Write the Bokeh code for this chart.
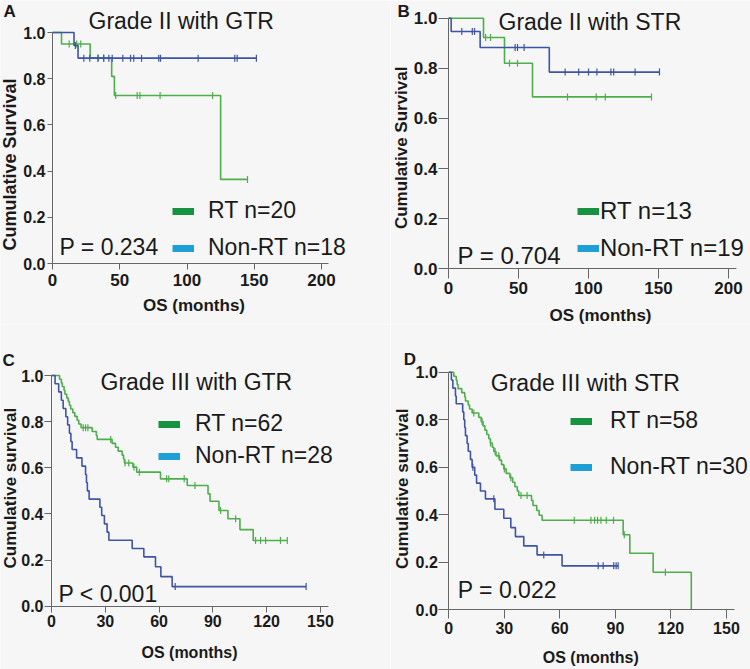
import numpy as np
from bokeh.plotting import figure
from bokeh.models import (Label, Legend, LegendItem, Range1d, FixedTicker,
                          PrintfTickFormatter, LinearAxis)
from bokeh.layouts import row, column
from bokeh.embed import file_html
from bokeh.resources import INLINE

FONT = "Liberation Sans"
GREEN = "#4fae4c"
BLUE = "#3f54a4"
LEG_GREEN = "#15933e"
LEG_BLUE = "#1ea0d6"
BG = "#f6f6f6"
AXIS = "#666666"

# ---------------- data (months, cumulative survival) ----------------
# Panel A: Grade II with GTR
a_rt_times = [6.7, 28.0, 44.0, 46.0, 125.0]
a_rt_surv = [0.95, 0.89, 0.81, 0.727, 0.364]
a_rt_end = 145.0
a_rt_cens = [12.4, 18.0, 21.0, 33.8, 38.0, 47.0, 63.0, 65.0, 80.0, 119.0, 145.0]
a_nrt_times = [16.0, 19.0]
a_nrt_surv = [0.944, 0.889]
a_nrt_end = 151.6
a_nrt_cens = [17.0, 23.3, 27.7, 33.9, 38.1, 41.9, 44.4, 52.3, 58.0, 60.4, 66.2,
              79.0, 80.3, 108.3, 135.5, 137.3, 151.6]

# Panel B: Grade II with STR
b_rt_times = [25.0, 40.0, 60.0]
b_rt_surv = [0.923, 0.82, 0.686]
b_rt_end = 145.0
b_rt_cens = [26.5, 30.0, 43.6, 49.3, 85.0, 105.5, 112.0, 145.0]
b_nrt_times = [1.9, 22.6, 72.0]
b_nrt_surv = [0.947, 0.883, 0.785]
b_nrt_end = 150.7
b_nrt_cens = [9.5, 17.0, 18.6, 47.6, 49.3, 54.0, 83.3, 93.0, 100.0, 106.0, 116.0,
              118.0, 133.3, 150.7]

# Panel C: Grade III with GTR
c_rt_times = [4.5, 5.5, 6.0, 7.0, 7.5, 8.5, 9.3, 10.0, 10.7, 11.9, 13.0, 14.3, 15.2,
              16.5, 22.7, 25.0, 25.5, 33.8, 35.7, 37.2, 39.4, 40.2, 40.7, 45.4, 47.5,
              60.8, 75.7, 87.3, 88.4, 93.4, 98.4, 105.1, 112.5]
c_rt_surv = [0.984, 0.968, 0.952, 0.935, 0.919, 0.903, 0.887, 0.871, 0.855, 0.839,
             0.823, 0.806, 0.790, 0.774, 0.757, 0.740, 0.723, 0.706, 0.689, 0.672,
             0.655, 0.638, 0.621, 0.603, 0.581, 0.552, 0.523, 0.487, 0.455, 0.415,
             0.379, 0.332, 0.285]
c_rt_end = 131.5
c_rt_cens = [17.7, 19.0, 20.3, 33.0, 41.0, 43.1, 46.0, 49.0, 64.2, 65.4, 74.0, 80.0,
             94.3, 102.7, 113.8, 116.6, 119.4, 127.7, 131.5]
c_nrt_times = [2.0, 4.0, 5.5, 6.5, 8.0, 9.0, 10.0, 10.8, 11.5, 14.0, 17.0, 19.0, 19.5,
               20.0, 21.0, 27.0, 28.0, 29.5, 31.0, 32.0, 45.0, 51.5, 58.0, 61.0, 67.3]
c_nrt_surv = [0.964, 0.929, 0.893, 0.857, 0.821, 0.786, 0.750, 0.714, 0.679, 0.643,
              0.607, 0.571, 0.536, 0.500, 0.464, 0.429, 0.393, 0.357, 0.321, 0.286,
              0.250, 0.214, 0.171, 0.128, 0.085]
c_nrt_end = 142.0
c_nrt_cens = [69.0, 142.0]

# Panel D: Grade III with STR
d_rt_times = [2.7, 4.0, 4.5, 5.0, 7.0, 8.6, 9.0, 10.5, 11.2, 12.6, 16.2, 17.5, 18.5,
              19.5, 20.5, 21.6, 22.5, 23.5, 24.3, 25.5, 27.4, 28.5, 29.7, 31.0, 33.0,
              34.5, 35.7, 37.0, 37.8, 44.7, 45.5, 47.5, 48.8, 50.4, 94.2, 97.8, 110.4,
              131.0]
d_rt_surv = [0.983, 0.966, 0.948, 0.931, 0.914, 0.897, 0.879, 0.862, 0.845, 0.828,
             0.810, 0.792, 0.774, 0.756, 0.738, 0.720, 0.702, 0.684, 0.666, 0.648,
             0.630, 0.611, 0.593, 0.574, 0.556, 0.537, 0.518, 0.500, 0.481, 0.460,
             0.439, 0.418, 0.398, 0.377, 0.316, 0.238, 0.158, 0.0]
d_rt_end = 131.0
d_rt_cens = [13.5, 18.0, 22.5, 25.0, 27.0, 30.0, 33.5, 39.0, 42.3, 67.8, 76.8, 78.8,
             80.4, 82.2, 85.1, 89.0, 94.8, 117.0]
d_nrt_times = [1.4, 2.2, 3.6, 4.0, 7.5, 8.1, 8.6, 9.0, 9.9, 10.5, 11.7, 12.6, 14.0,
               15.0, 17.1, 19.8, 24.9, 29.7, 33.5, 36.0, 40.5, 47.7, 61.2]
d_nrt_surv = [0.967, 0.933, 0.900, 0.867, 0.833, 0.800, 0.767, 0.733, 0.700, 0.667,
              0.633, 0.600, 0.567, 0.533, 0.500, 0.467, 0.423, 0.385, 0.346, 0.308,
              0.269, 0.231, 0.185]
d_nrt_end = 91.5
d_nrt_cens = [13.0, 24.3, 51.3, 80.7, 83.4, 89.1, 90.4, 91.5]

xticks_200 = [0, 50, 100, 150, 200]
xticks_150 = [0, 30, 60, 90, 120, 150]
yticks = [0.0, 0.2, 0.4, 0.6, 0.8, 1.0]


def km_path(times, surv, end):
    xs = [0.0] + list(times) + [end]
    ys = [1.0] + list(surv) + [surv[-1]]
    return xs, ys


def surv_at(times, surv, t):
    idx = np.searchsorted(np.asarray(times), np.asarray(t), side="right") - 1
    s = np.concatenate([[1.0], np.asarray(surv)])
    return s[idx + 1]


def add_text(p, text, dx, dy, size, bold=False, align="left",
             baseline="alphabetic", angle=0.0):
    # small correction for where the renderer places the text box
    if angle == 0.0:
        dy = dy + 0.27 * size
    else:
        dx = dx - 0.17 * size
    p.add_layout(Label(x=0, y=0, x_offset=dx, y_offset=dy, text=text,
                       text_font=FONT, text_font_size=f"{size}px",
                       text_font_style="bold" if bold else "normal",
                       text_color="#1a1a1a", text_align=align,
                       text_baseline=baseline, angle=angle))


def make_panel(c):
    W, H = c["w"], c["h"]
    ox, oy = c["origin"]          # pixel position of data (0, 0) inside the figure
    sx, sy = c["scale"]           # pixels per month, pixels per unit survival
    p = figure(width=W, height=H, output_backend="svg", toolbar_location=None,
               title=None, x_axis_location=None, y_axis_location=None,
               x_range=Range1d(-ox / sx, (W - ox) / sx),
               y_range=Range1d(-(H - oy) / sy, oy / sy),
               min_border=0, min_border_left=0, min_border_right=0,
               min_border_top=0, min_border_bottom=0)
    p.background_fill_color = BG
    p.border_fill_color = BG
    p.outline_line_color = None
    p.grid.visible = False

    xaxis = LinearAxis(fixed_location=0, bounds=(0, c["xend"]),
                       ticker=FixedTicker(ticks=c["xticks"]))
    yaxis = LinearAxis(fixed_location=0, bounds=(0, 1.0),
                       ticker=FixedTicker(ticks=yticks),
                       formatter=PrintfTickFormatter(format="%.1f"))
    for ax, fs in ((xaxis, c["xfs"]), (yaxis, c["yfs"])):
        ax.major_label_text_font = FONT
        ax.major_label_text_font_size = f"{fs}px"
        ax.major_label_text_font_style = "bold"
        ax.major_label_text_color = "#1a1a1a"
        ax.axis_line_color = AXIS
        ax.major_tick_line_color = AXIS
        ax.major_tick_in = 0
        ax.minor_tick_in = 0
        ax.minor_tick_out = 0
    xaxis.major_tick_out = c["xtick"]
    yaxis.major_tick_out = c["ytick"]
    xaxis.major_label_standoff = c["xstand"]
    yaxis.major_label_standoff = c["ystand"]
    p.add_layout(xaxis, "below")
    p.add_layout(yaxis, "left")

    # curves: RT (green) first, then Non-RT (blue)
    for (t, s, e, cens), col in ((c["rt"], GREEN), (c["nrt"], BLUE)):
        xs, ys = km_path(t, s, e)
        p.step(xs, ys, mode="after", line_color=col, line_width=1.6)
        p.scatter(cens, surv_at(t, s, cens), marker="dash", angle=np.pi / 2,
                  size=7, line_color=col, line_width=1.2)

    # legend (legend-only renderers with no visible data)
    nan = np.array([np.nan])
    r1 = p.line(x=nan, y=nan, line_color=LEG_GREEN, line_width=7)
    r2 = p.line(x=nan, y=nan, line_color=LEG_BLUE, line_width=7)
    ldx, ldy = c["legpos"]
    lg = Legend(items=[LegendItem(label=c["leg"][0], renderers=[r1]),
                       LegendItem(label=c["leg"][1], renderers=[r2])],
                location=(ox + ldx, (H - oy) + ldy), orientation="vertical",
                glyph_width=22, glyph_height=28, label_height=28,
                label_standoff=c["legstand"], spacing=c["legspace"],
                padding=0, margin=0, background_fill_alpha=0,
                border_line_alpha=0, label_text_font=FONT,
                label_text_font_size=f"{c['legsize']}px",
                label_text_color="#1a1a1a")
    p.add_layout(lg)

    add_text(p, c["letter"][0], c["letter"][1], c["letter"][2], 17, bold=True)
    add_text(p, c["title"][0], c["title"][1], c["title"][2], 23)
    add_text(p, c["pval"][0], c["pval"][1], c["pval"][2], c["pval"][3])
    add_text(p, c["ylab"][0], c["ylab"][1], c["ylab"][2], c["ylab"][3], bold=True,
             align="center", baseline="middle", angle=np.pi / 2)
    add_text(p, "OS (months)", c["xlab"][0], c["xlab"][1], c["xlab"][2], bold=True,
             align="center")
    return p


pA = make_panel(dict(
    w=390, h=324, origin=(52, 263), scale=(1.345, 231.0), xend=205,
    xticks=xticks_200, xtick=6, ytick=5, xstand=4, ystand=2, xfs=17, yfs=16,
    rt=(a_rt_times, a_rt_surv, a_rt_end, a_rt_cens),
    nrt=(a_nrt_times, a_nrt_surv, a_nrt_end, a_nrt_cens),
    leg=("RT n=20", "Non-RT n=18"), legpos=(120, 1.5), legstand=14, legspace=9,
    legsize=23,
    letter=("A", -49, 247), title=("Grade II with GTR", 36, 236),
    pval=("P = 0.234", 7, 10, 23), ylab=("Cumulative Survival", -39, 99, 18),
    xlab=(141.5, -47, 17)))

pB = make_panel(dict(
    w=360, h=324, origin=(58, 268.3), scale=(1.4, 250.6), xend=206,
    xticks=xticks_200, xtick=10, ytick=10, xstand=3, ystand=1, xfs=17, yfs=17,
    rt=(b_rt_times, b_rt_surv, b_rt_end, b_rt_cens),
    nrt=(b_nrt_times, b_nrt_surv, b_nrt_end, b_nrt_cens),
    leg=("RT n=13", "Non-RT n=19"), legpos=(129, 6.8), legstand=1, legspace=9,
    legsize=24,
    letter=("B", -51, 253), title=("Grade II with STR", 50, 241),
    pval=("P = 0.704", 9, 6.6, 24), ylab=("Cumulative Survival", -44.5, 121, 17),
    xlab=(152, -51, 17)))

pC = make_panel(dict(
    w=390, h=345, origin=(51, 281.7), scale=(1.793, 230.7), xend=154.5,
    xticks=xticks_150, xtick=6, ytick=7, xstand=3, ystand=1, xfs=16, yfs=16,
    rt=(c_rt_times, c_rt_surv, c_rt_end, c_rt_cens),
    nrt=(c_nrt_times, c_nrt_surv, c_nrt_end, c_nrt_cens),
    leg=("RT n=62", "Non-RT n=28"), legpos=(107, 136.2), legstand=15, legspace=4,
    legsize=23,
    letter=("C", -49, 241), title=("Grade III with GTR", 49, 218),
    pval=("P < 0.001", 7, 6, 23), ylab=("Cumulative survival", -38, 118, 17),
    xlab=(138, -51, 16)))

pD = make_panel(dict(
    w=360, h=345, origin=(58.3, 285.3), scale=(1.851, 237.6), xend=154.5,
    xticks=xticks_150, xtick=9, ytick=10, xstand=3, ystand=1, xfs=16, yfs=16,
    rt=(d_rt_times, d_rt_surv, d_rt_end, d_rt_cens),
    nrt=(d_nrt_times, d_nrt_surv, d_nrt_end, d_nrt_cens),
    leg=("RT n=58", "Non-RT n=30"), legpos=(121.7, 128.6), legstand=18, legspace=18,
    legsize=23,
    letter=("D", -45, 246), title=("Grade III with STR", 42, 221),
    pval=("P = 0.022", 9, 14, 23), ylab=("Cumulative survival", -43, 121, 17),
    xlab=(142, -52.3, 16)))

layout = column(row(pA, pB), row(pC, pD))

with open("out.html", "w") as f:
    f.write(file_html(layout, INLINE))
